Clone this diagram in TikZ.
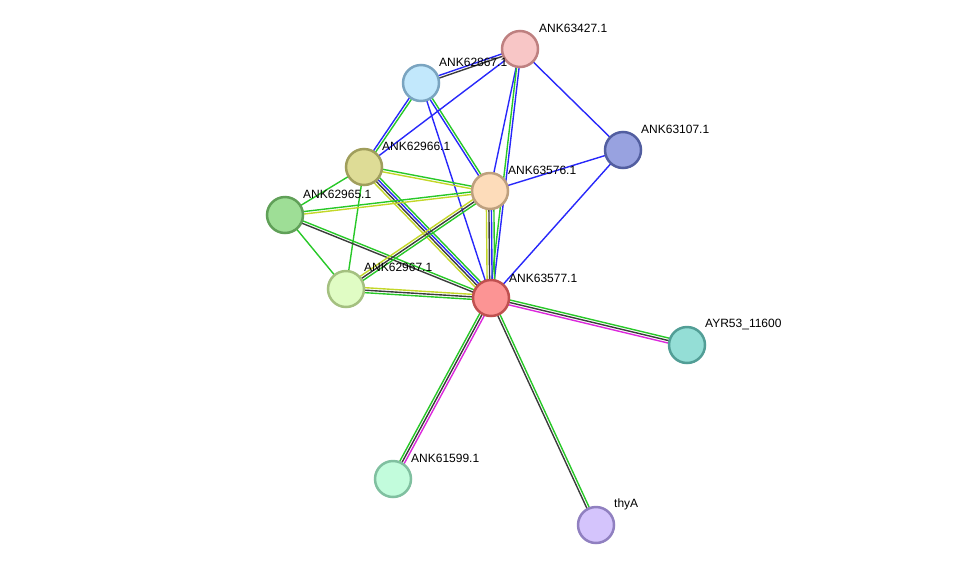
\documentclass[tikz,border=0pt]{standalone}
\usepackage{fontspec}
\setmainfont{Liberation Sans}
\usetikzlibrary{calc}
\pgfdeclarelayer{bg}
\pgfsetlayers{bg,main}
\definecolor{eblue}{RGB}{40,40,250}
\definecolor{egreen}{RGB}{40,200,40}
\definecolor{eyellow}{RGB}{195,215,40}
\definecolor{eblack}{RGB}{60,60,60}
\definecolor{emagenta}{RGB}{220,40,220}
\definecolor{fA}{RGB}{248,198,198}\definecolor{bA}{RGB}{190,128,128}
\definecolor{fB}{RGB}{194,232,252}\definecolor{bB}{RGB}{122,164,192}
\definecolor{fC}{RGB}{152,162,224}\definecolor{bC}{RGB}{82,94,160}
\definecolor{fD}{RGB}{222,220,150}\definecolor{bD}{RGB}{160,158,92}
\definecolor{fE}{RGB}{253,220,186}\definecolor{bE}{RGB}{190,160,126}
\definecolor{fF}{RGB}{158,222,150}\definecolor{bF}{RGB}{96,160,88}
\definecolor{fG}{RGB}{224,252,196}\definecolor{bG}{RGB}{164,192,128}
\definecolor{fH}{RGB}{252,148,148}\definecolor{bH}{RGB}{192,80,80}
\definecolor{fI}{RGB}{148,222,214}\definecolor{bI}{RGB}{82,158,150}
\definecolor{fJ}{RGB}{194,252,220}\definecolor{bJ}{RGB}{128,192,160}
\definecolor{fK}{RGB}{212,196,252}\definecolor{bK}{RGB}{144,128,192}
\newcommand\medge[4]{%
  \begin{pgfonlayer}{bg}
  \foreach \cc [count=\ii] in {#4}{
    \pgfmathsetmacro\dd{(\ii-(#3+1)/2)*2.5}
    \draw[edge,\cc] ($(#1.center)!\dd pt!90:(#2.center)$) -- ($(#2.center)!\dd pt!-90:(#1.center)$);
  }
  \end{pgfonlayer}}
\tikzset{
  pn/.style 2 args={circle, minimum size=36pt, inner sep=0pt, line width=2.5pt, fill=#1, draw=#2},
  lbl/.style={anchor=west, inner sep=0pt, font=\fontsize{12}{14}\selectfont, text=black},
  edge/.style={line width=1.4pt}
}
\begin{document}
\begin{tikzpicture}[x=1pt,y=-1pt]
\useasboundingbox (0,0) rectangle (976,571);
\node[pn={fA}{bA}] (n63427) at (520,49) {};
\node[pn={fB}{bB}] (n62867) at (421,83) {};
\node[pn={fC}{bC}] (n63107) at (623,150) {};
\node[pn={fD}{bD}] (n62966) at (364,167) {};
\node[pn={fE}{bE}] (n63576) at (490,191) {};
\node[pn={fF}{bF}] (n62965) at (285,215) {};
\node[pn={fG}{bG}] (n62967) at (346,289) {};
\node[pn={fH}{bH}] (n63577) at (491,298) {};
\node[pn={fI}{bI}] (nAYR) at (687,345) {};
\node[pn={fJ}{bJ}] (n61599) at (393,479) {};
\node[pn={fK}{bK}] (nthyA) at (596,525) {};

\node[lbl] (l63427) at (539,28) {ANK63427.1};
\node[lbl] (l62867) at (439,62) {ANK62867.1};
\node[lbl] (l63107) at (641,129) {ANK63107.1};
\node[lbl] (l62966) at (382,146) {ANK62966.1};
\node[lbl] (l63576) at (508,170) {ANK63576.1};
\node[lbl] (l62965) at (303,194) {ANK62965.1};
\node[lbl] (l62967) at (364,267) {ANK62967.1};
\node[lbl] (l63577) at (509,278) {ANK63577.1};
\node[lbl] (lAYR) at (705,324) {AYR53\_11600};
\node[lbl] (l61599) at (411,458) {ANK61599.1};
\node[lbl] (lthyA) at (614,504) {thyA};

\medge{n62867}{n63427}{2}{eblack,eblue}
\medge{n62867}{n62966}{2}{eblue,egreen}
\medge{n62867}{n63576}{2}{eblue,egreen}
\medge{n62867}{n63577}{1}{eblue}
\medge{n63427}{n62966}{1}{eblue}
\medge{n63427}{n63576}{1}{eblue}
\medge{n63427}{n63577}{2}{egreen,eblue}
\medge{n63427}{n63107}{1}{eblue}
\medge{n63107}{n63576}{1}{eblue}
\medge{n63107}{n63577}{1}{eblue}
\medge{n62966}{n63576}{2}{eyellow,egreen}
\medge{n62966}{n63577}{4}{eyellow,eblack,eblue,egreen}
\medge{n62966}{n62965}{1}{egreen}
\medge{n62966}{n62967}{1}{egreen}
\medge{n62965}{n63576}{2}{eyellow,egreen}
\medge{n62965}{n63577}{2}{eblack,egreen}
\medge{n62965}{n62967}{1}{egreen}
\medge{n62967}{n63576}{3}{egreen,eblack,eyellow}
\medge{n62967}{n63577}{3}{egreen,eblack,eyellow}
\medge{n63576}{n63577}{4}{eyellow,eblack,eblue,egreen}
\medge{n63577}{nAYR}{3}{emagenta,eblack,egreen}
\medge{n63577}{n61599}{3}{egreen,eblack,emagenta}
\medge{n63577}{nthyA}{2}{eblack,egreen}
\end{tikzpicture}
\end{document}
